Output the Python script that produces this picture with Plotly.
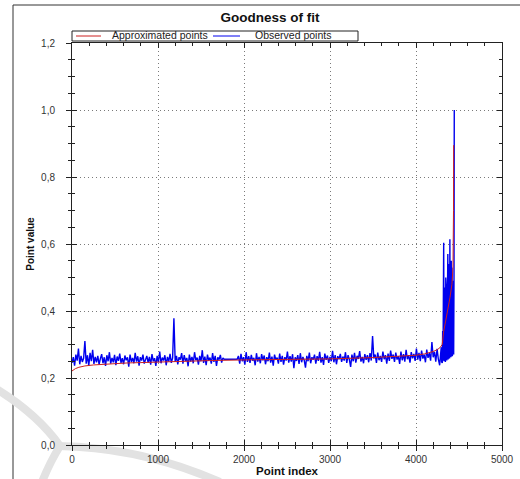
import plotly.graph_objects as go

# ---------------- data ----------------
# Observed points (sampled every 15 indices), first block: index 0 .. 1770
obs_a_values = [
    0.245, 0.262, 0.237, 0.27, 0.252, 0.288, 0.241, 0.266, 0.248, 0.259, 0.31, 0.243, 0.268, 0.236, 0.275, 0.25, 0.284, 0.242, 0.263, 0.247,
    0.266, 0.24, 0.258, 0.271, 0.244, 0.262, 0.236, 0.268, 0.25, 0.277, 0.243, 0.26, 0.247, 0.269, 0.238, 0.264, 0.251, 0.273, 0.245, 0.259,
    0.241, 0.267, 0.253, 0.262, 0.234, 0.27, 0.248, 0.26, 0.244, 0.275, 0.249, 0.265, 0.237, 0.262, 0.252, 0.27, 0.243, 0.258, 0.266, 0.246,
    0.263, 0.24, 0.271, 0.25, 0.259, 0.236, 0.266, 0.247, 0.279, 0.244, 0.261, 0.252, 0.268, 0.238, 0.263, 0.249, 0.272, 0.245, 0.26, 0.378,
    0.248, 0.266, 0.241, 0.262, 0.255, 0.274, 0.243, 0.268, 0.251, 0.26, 0.235, 0.27, 0.249, 0.263, 0.244, 0.277, 0.253, 0.261, 0.24, 0.266,
    0.25, 0.283, 0.245, 0.264, 0.238, 0.27, 0.252, 0.261, 0.243, 0.274, 0.248, 0.266, 0.236, 0.262, 0.255, 0.269, 0.246, 0.26, 0.256,
]
obs_a_index = list(range(0, 1771, 15))

# second block: index 1920 .. 4290
obs_b_values = [
    0.256, 0.266, 0.243, 0.272, 0.25, 0.262, 0.24, 0.277, 0.248, 0.265, 0.245, 0.269, 0.252, 0.26, 0.238, 0.274, 0.249, 0.263, 0.244, 0.271,
    0.253, 0.267, 0.241, 0.262, 0.25, 0.276, 0.246, 0.264, 0.237, 0.27, 0.255, 0.261, 0.243, 0.273, 0.248, 0.266, 0.24, 0.262, 0.252, 0.279,
    0.246, 0.265, 0.249, 0.271, 0.229, 0.262, 0.251, 0.268, 0.242, 0.274, 0.247, 0.263, 0.253, 0.231, 0.266, 0.25, 0.276, 0.244, 0.262, 0.255,
    0.27, 0.243, 0.265, 0.251, 0.278, 0.246, 0.262, 0.239, 0.273, 0.254, 0.267, 0.245, 0.263, 0.25, 0.281, 0.247, 0.268, 0.241, 0.265, 0.256,
    0.272, 0.248, 0.264, 0.252, 0.277, 0.245, 0.268, 0.255, 0.233, 0.27, 0.25, 0.275, 0.246, 0.266, 0.257, 0.28, 0.249, 0.263, 0.244, 0.271,
    0.254, 0.268, 0.247, 0.274, 0.252, 0.325, 0.258, 0.27, 0.245, 0.276, 0.253, 0.266, 0.248, 0.279, 0.256, 0.268, 0.243, 0.273, 0.251, 0.282,
    0.257, 0.27, 0.248, 0.276, 0.255, 0.265, 0.242, 0.279, 0.253, 0.271, 0.249, 0.284, 0.256, 0.268, 0.246, 0.277, 0.259, 0.272, 0.251, 0.288,
    0.255, 0.275, 0.25, 0.282, 0.258, 0.27, 0.247, 0.285, 0.26, 0.274, 0.252, 0.307, 0.262, 0.278, 0.249, 0.287, 0.256, 0.238, 0.283,
]
obs_b_index = list(range(1920, 4291, 15))

# final steep part: index 4294 .. 4442 every 4, then the last point 4445
obs_tail_values = [
    0.292, 0.248, 0.305, 0.245, 0.34, 0.252, 0.42, 0.604, 0.25, 0.44, 0.258, 0.47, 0.248, 0.5, 0.26, 0.46, 0.252, 0.52, 0.265,
    0.57, 0.255, 0.5, 0.268, 0.54, 0.258, 0.614, 0.27, 0.52, 0.262, 0.55, 0.275, 0.53, 0.265, 0.51, 0.28, 0.49, 0.27, 0.5,
    1.0,
]
obs_tail_index = list(range(4294, 4443, 4)) + [4445]

# Approximated points (fitted curve)
approx_index = [0, 20, 40, 80, 150, 250, 350, 500, 650, 800, 1000, 1300, 1600, 2000, 2500, 3000, 3500, 3800,
                4000, 4100, 4200, 4250, 4280, 4305, 4322, 4345, 4372, 4395, 4418, 4430, 4436, 4438]
approx_values = [0.221, 0.225, 0.228, 0.232, 0.236, 0.239, 0.241, 0.243, 0.245, 0.246, 0.248, 0.25, 0.252, 0.254,
                 0.255, 0.257, 0.261, 0.264, 0.268, 0.272, 0.279, 0.285, 0.291, 0.30, 0.34, 0.37, 0.405, 0.44,
                 0.48, 0.53, 0.70, 0.895]

x_tick_values = [0, 1000, 2000, 3000, 4000, 5000]
y_tick_values = [0.0, 0.2, 0.4, 0.6, 0.8, 1.0, 1.2]

series_names = ["Approximated points", "Observed points"]
series_colors = ["#cc2020", "#0000ee"]

obs_index = obs_a_index + obs_b_index + obs_tail_index
obs_values = obs_a_values + obs_b_values + obs_tail_values

# ---------------- layout geometry (pixels) ----------------
W, H = 520, 479
PL, PR, PT, PB = 72, 502, 43, 445


def px_x(px):
    return (px - PL) / (PR - PL)


def px_y(py):
    return (PB - py) / (PB - PT)


FONT = "Liberation Sans, Arial, Helvetica, sans-serif"
NARROW = "Liberation Sans Narrow, Arial Narrow, Liberation Sans, sans-serif"

fig = go.Figure()

fig.add_trace(go.Scatter(
    x=obs_index, y=obs_values, mode="lines", name=series_names[1],
    line=dict(color=series_colors[1], width=1.4), showlegend=False,
))
fig.add_trace(go.Scatter(
    x=approx_index, y=approx_values, mode="lines", name=series_names[0],
    line=dict(color=series_colors[0], width=1), showlegend=False,
))
# dummy trace to host the overlay axes drawing outward ticks
fig.add_trace(go.Scatter(x=[None], y=[None], xaxis="x2", yaxis="y2",
                         showlegend=False, hoverinfo="skip"))

axis_common = dict(
    showline=True, linecolor="#222", linewidth=1, mirror="allticks",
    ticks="inside", ticklen=5, tickcolor="#222", tickwidth=1,
    showgrid=True, gridcolor="#7a7a7a", griddash="1px,3px", gridwidth=1,
    zeroline=False, automargin=False, tickfont=dict(family=FONT, size=10, color="#333"),
)

fig.update_layout(
    width=W, height=H,
    margin=dict(l=PL, r=W - PR, t=PT, b=H - PB, autoexpand=False),
    paper_bgcolor="white", plot_bgcolor="white",
    separators=",.",
    font=dict(family=FONT, size=10, color="#222"),
    title=dict(text="<b>Goodness of fit</b>", x=270 / W, xanchor="center",
               y=1 - 17 / H, yanchor="middle", xref="container", yref="container",
               font=dict(family=FONT, size=13.5, color="#111")),
    xaxis=dict(range=[0, 5000], tickvals=x_tick_values, tickformat="d",
               minor=dict(dtick=200, tick0=0, ticks="inside", ticklen=3, tickcolor="#222", showgrid=False),
               ticklabelstandoff=5,
               title=dict(text="<b>Point index</b>", standoff=2,
                          font=dict(family=FONT, size=11.5, color="#111")),
               **axis_common),
    yaxis=dict(range=[0, 1.2], tickvals=y_tick_values, tickformat=".1f",
               minor=dict(dtick=0.05, tick0=0, ticks="inside", ticklen=3, tickcolor="#222", showgrid=False),
               ticklabelstandoff=14,
               title=dict(text="<b>Point value</b>", standoff=4,
                          font=dict(family=NARROW, size=10, color="#111")),
               **axis_common),
    xaxis2=dict(range=[0, 5000], overlaying="x", side="bottom", anchor="y2", automargin=False,
                tickvals=x_tick_values, ticks="outside", ticklen=5, tickcolor="#222",
                minor=dict(dtick=200, tick0=0, ticks="outside", ticklen=3, tickcolor="#222"),
                showticklabels=False, showgrid=False, showline=False, zeroline=False),
    yaxis2=dict(range=[0, 1.2], overlaying="y", side="left", anchor="x2", automargin=False,
                tickvals=y_tick_values, ticks="outside", ticklen=5, tickcolor="#222",
                minor=dict(dtick=0.05, tick0=0, ticks="outside", ticklen=3, tickcolor="#222"),
                showticklabels=False, showgrid=False, showline=False, zeroline=False),
    showlegend=False,
)

# ---- compact legend box (as in the original chart) ----
LEG_TOP, LEG_BOT = 31, 41
LEG_MID = (LEG_TOP + LEG_BOT) / 2
legend_items = [  # (sample start px, sample end px, text start px)
    (76, 101, 110),
    (213, 240, 253),
]
shapes = [
    dict(type="rect", xref="paper", yref="paper", x0=px_x(72), x1=px_x(358),
         y0=px_y(LEG_BOT), y1=px_y(LEG_TOP), line=dict(color="#222", width=1), fillcolor="white"),
]
annotations = []
for (s0, s1, t0), name, color in zip(legend_items, series_names, series_colors):
    shapes.append(dict(type="line", xref="paper", yref="paper", x0=px_x(s0), x1=px_x(s1),
                       y0=px_y(LEG_MID), y1=px_y(LEG_MID), line=dict(color=color, width=1)))
    annotations.append(dict(text=name, xref="paper", yref="paper", x=px_x(t0), y=px_y(LEG_MID - 0.5),
                            xanchor="left", yanchor="middle", showarrow=False,
                            font=dict(family=FONT, size=10.5, color="#222")))

# page frame lines and faint watermark arcs
shapes += [
    dict(type="line", xref="paper", yref="paper", x0=px_x(13), x1=px_x(13), y0=px_y(5), y1=px_y(479),
         line=dict(color="#333", width=1), layer="below"),
    dict(type="line", xref="paper", yref="paper", x0=px_x(13), x1=px_x(520), y0=px_y(5), y1=px_y(5),
         line=dict(color="#333", width=1), layer="below"),
    dict(type="path", xref="paper", yref="paper", layer="below",
         path=f"M {px_x(-2)},{px_y(390)} Q {px_x(38)},{px_y(415)} {px_x(60)},{px_y(446)} "
              f"Q {px_x(50)},{px_y(462)} {px_x(42)},{px_y(482)}",
         line=dict(color="#e2e2e2", width=8)),
    dict(type="path", xref="paper", yref="paper", layer="below",
         path=f"M {px_x(58)},{px_y(446)} Q {px_x(140)},{px_y(447)} {px_x(220)},{px_y(482)}",
         line=dict(color="#e2e2e2", width=8)),
]
fig.update_layout(shapes=shapes, annotations=annotations)

fig.write_html(
    "out.html",
    config={"displayModeBar": False},
    post_script="document.body.style.margin='0';document.body.style.overflow='hidden';",
)
